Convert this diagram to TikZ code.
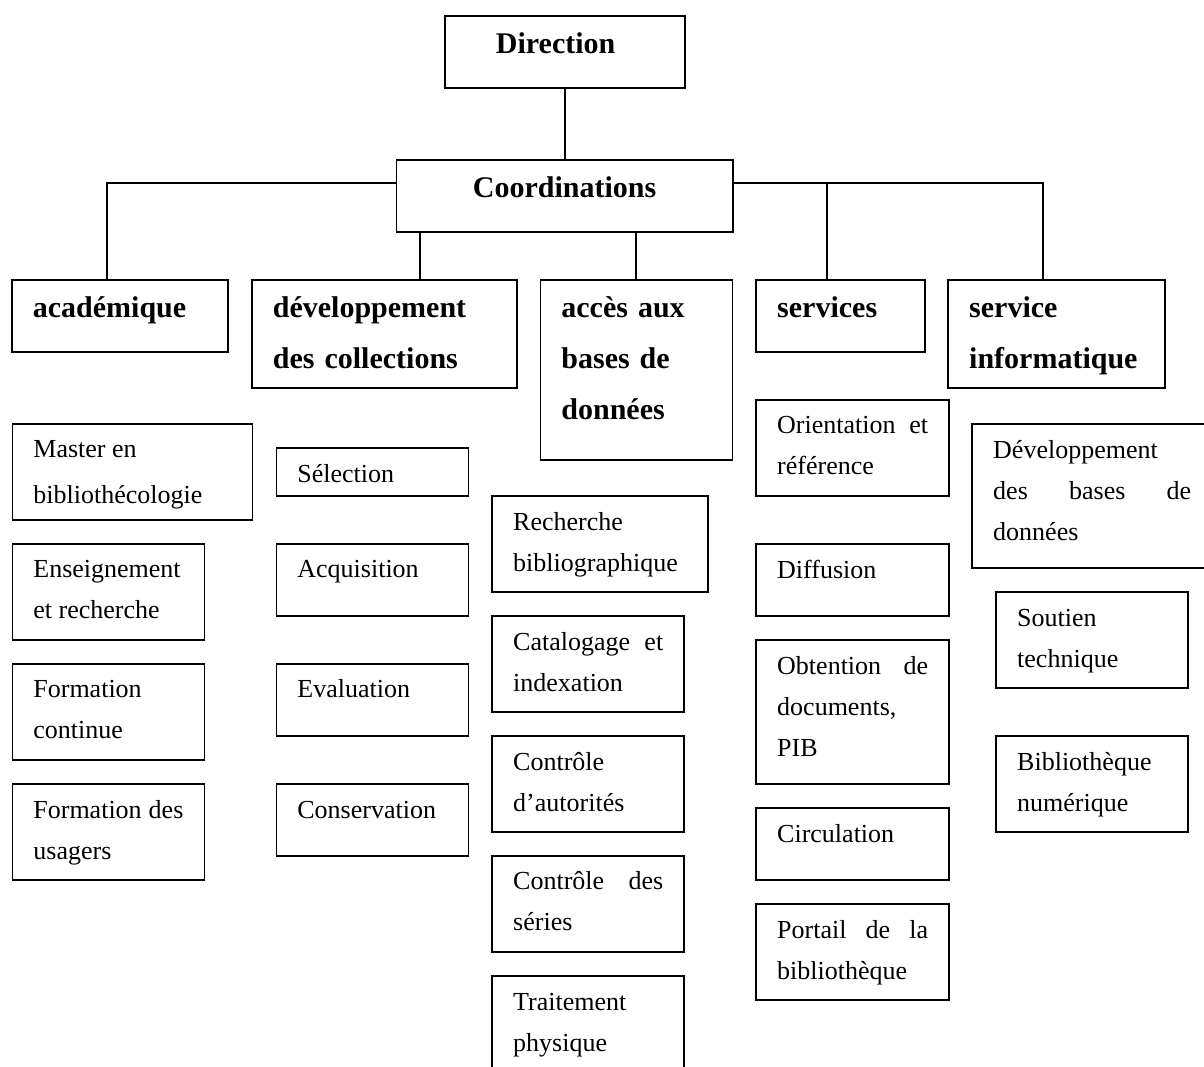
\documentclass[tikz,border=0pt]{standalone}
\usepackage{fontspec}
\setmainfont{Liberation Serif}
\hyphenpenalty=10000
\exhyphenpenalty=10000

\begin{document}
\begin{tikzpicture}[
	x=0.5pt, y=-0.5pt,
	every node/.style={draw, line width=0.9pt, anchor=north west, inner xsep=10.5pt, inner ysep=0pt},
	titre/.style={font=\bfseries\fontsize{15}{25.5}\selectfont, align=left, text height=19pt},
	case/.style={font=\fontsize{13}{20.5}\selectfont, align=justify, text height=17pt,
		execute at begin node=\spaceskip 3.25pt plus 40pt minus 1pt\relax},
	lien/.style={line width=0.9pt},
]
\useasboundingbox (0,0) rectangle (1204,1066);
\clip (0,0) rectangle (1204,1066);

% top of the chart
\node[titre, text width=69pt, inner xsep=25.5pt, text depth=17pt] (direction) at (444,15) {Direction};
\node[titre, align=center, text width=147.25pt, text depth=17pt] (coord) at (395.5,159) {Coordinations};

% the five coordinations
\node[titre, text width=87pt, text depth=17pt] (acad) at (11,279) {académique};
\node[titre, text width=111.5pt, text depth=35pt] (devcoll) at (251,279) {développement\\des collections};
\node[titre, text width=75pt, text depth=71pt] (acces) at (539.5,279) {accès aux\\bases de\\données};
\node[titre, text width=63.2pt, text depth=17pt] (serv) at (755.3,279) {services};
\node[titre, text width=87.35pt, text depth=35pt] (info) at (947.3,279) {service\\informatique};

% académique
\node[case, text width=99pt, text depth=31pt, font=\fontsize{13}{23}\selectfont] (master) at (11.5,423) {Master en\\bibliothécologie};
\node[case, text width=75pt, text depth=31pt] (enseig) at (11.5,543) {Enseignement et recherche};
\node[case, text width=75pt, text depth=31pt] (contin) at (11.5,663) {Formation continue};
\node[case, text width=75pt, text depth=31pt] (usagers) at (11.5,783.4) {Formation des usagers};

% développement des collections
\node[case, text width=75pt, text depth=7pt] (select) at (275.5,447.2) {Sélection};
\node[case, text width=75pt, text depth=19pt] (acquis) at (275.5,543) {Acquisition};
\node[case, text width=75pt, text depth=19pt] (evalu) at (275.5,663) {Evaluation};
\node[case, text width=75pt, text depth=19pt] (conserv) at (275.5,783.4) {Conservation};

% accès aux bases de données
\node[case, text width=87pt, text depth=31pt] (recherche) at (491.3,495.4) {Recherche bibliographique};
\node[case, text width=75pt, text depth=31pt] (catalog) at (491.3,615.3) {Catalogage et indexation};
\node[case, text width=75pt, text depth=31pt] (autorites) at (491.3,735.2) {Contrôle d’autorités};
\node[case, text width=75pt, text depth=31pt] (series) at (491.3,855) {Contrôle des séries};
\node[case, text width=75pt, text depth=31pt] (traitement) at (491.3,975.4) {Traitement physique};

% services
\node[case, text width=75.5pt, text depth=31pt] (orient) at (755.3,398.7) {Orientation et référence};
\node[case, text width=75.5pt, text depth=19pt] (diffus) at (755.3,543.3) {Diffusion};
\node[case, text width=75.5pt, text depth=55pt] (obtent) at (755.3,639.3) {Obtention de\linebreak documents, PIB};
\node[case, text width=75.5pt, text depth=19pt] (circul) at (755.3,807.3) {Circulation};
\node[case, text width=75.5pt, text depth=31pt] (portail) at (755.3,903.3) {Portail de la bibliothèque};

% service informatique
\node[case, text width=99pt, text depth=55pt] (devbases) at (971.3,423.3) {Développement\\des bases de données};
\node[case, text width=75pt, text depth=31pt] (soutien) at (995.3,591.3) {Soutien technique};
\node[case, text width=75pt, text depth=31pt] (numerique) at (995.3,735.3) {Bibliothèque numérique};

% connectors
\coordinate (d1) at ([xshift=84.5pt]devcoll.north west);
\coordinate (d2) at ([xshift=48.25pt]acces.north west);
\draw[lien] (direction.south) -- (direction.south |- coord.north);
\draw[lien] ([yshift=-12pt]coord.north west) -| ([xshift=48pt]acad.north west);
\draw[lien] ([yshift=-12pt]coord.north east) -| ([xshift=48pt]info.north west);
\draw[lien] ([xshift=36pt]serv.north west) |- ([yshift=-12pt]coord.north east);
\draw[lien] (d1) -- (d1 |- coord.south);
\draw[lien] (d2) -- (d2 |- coord.south);
\end{tikzpicture}
\end{document}
